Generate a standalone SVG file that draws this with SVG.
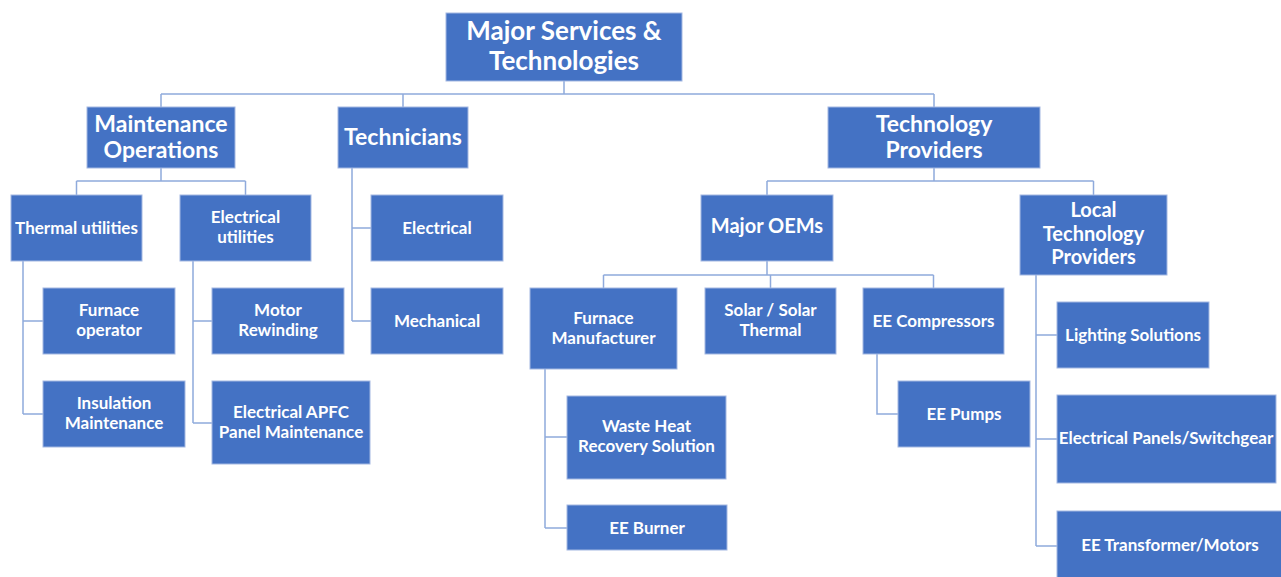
<svg xmlns="http://www.w3.org/2000/svg" width="1281" height="577" viewBox="0 0 1281 577">
<style>
.box{fill:#4472C4;stroke:#A3B8E2;stroke-width:1}
.t{font-family:Lato,"Liberation Sans",sans-serif;font-weight:bold;fill:#fff;text-anchor:middle}
.xl{font-size:26px}
.l{font-size:23px}
.m{font-size:20px}
.s{font-size:17px}
.c{fill:none;stroke:#8FAADC;stroke-width:1.5}
</style>
<rect width="1281" height="577" fill="#fff"/>
<g id="connectors" class="c">
<path d="M564 81V94M161 94H934M161 94V107M403 94V107M934 94V107"/>
<path d="M161 168V181M76.5 181H245.5M76.5 181V195M245.5 181V195"/>
<path d="M23 261V414M23 321H43M23 414H43"/>
<path d="M193 261V423M193 321H212M193 423H212"/>
<path d="M352 168V321M352 228H371M352 321H371"/>
<path d="M934 168V181M767 181H1093.5M767 181V195M1093.5 181V195"/>
<path d="M767 261V275M603.5 275H933.5M603.5 275V288M770.5 275V288M933.5 275V288"/>
<path d="M545 369V528M545 437H567M545 528H567"/>
<path d="M877 354V414H898"/>
<path d="M1036 275V546M1036 335H1057M1036 439H1057M1036 546H1057"/>
</g>
<g id="root"><rect class="box" x="446" y="13" width="236" height="68"/><text class="t xl" x="564" y="39.5">Major Services &amp;</text><text class="t xl" x="564" y="69.5">Technologies</text></g>
<g id="maintenance"><rect class="box" x="87" y="107" width="148" height="61"/><text class="t l" x="161" y="131.5">Maintenance</text><text class="t l" x="161" y="157.5">Operations</text></g>
<g id="technicians"><rect class="box" x="338" y="107" width="130" height="61"/><text class="t l" x="403" y="145">Technicians</text></g>
<g id="techproviders"><rect class="box" x="828" y="107" width="212" height="61"/><text class="t l" x="934" y="132">Technology</text><text class="t l" x="934" y="158">Providers</text></g>
<g id="thermal"><rect class="box" x="11" y="195" width="131" height="66"/><text class="t s" x="76.5" y="233.5">Thermal utilities</text></g>
<g id="elecutil"><rect class="box" x="180" y="195" width="131" height="66"/><text class="t s" x="245.5" y="222.5">Electrical</text><text class="t s" x="245.5" y="242.5">utilities</text></g>
<g id="electrical"><rect class="box" x="371" y="195" width="132" height="66"/><text class="t s" x="437" y="233.5">Electrical</text></g>
<g id="furnaceop"><rect class="box" x="43" y="288" width="132" height="66"/><text class="t s" x="109" y="316">Furnace</text><text class="t s" x="109" y="336">operator</text></g>
<g id="insulation"><rect class="box" x="43" y="381" width="142" height="66"/><text class="t s" x="114" y="409">Insulation</text><text class="t s" x="114" y="429">Maintenance</text></g>
<g id="motor"><rect class="box" x="212" y="288" width="132" height="66"/><text class="t s" x="278" y="316">Motor</text><text class="t s" x="278" y="336">Rewinding</text></g>
<g id="apfc"><rect class="box" x="212" y="381" width="158" height="83"/><text class="t s" x="291" y="417.5">Electrical APFC</text><text class="t s" x="291" y="437.5">Panel Maintenance</text></g>
<g id="mechanical"><rect class="box" x="371" y="288" width="132" height="66"/><text class="t s" x="437" y="327">Mechanical</text></g>
<g id="oems"><rect class="box" x="701" y="195" width="132" height="66"/><text class="t m" x="767" y="233">Major OEMs</text></g>
<g id="localtp"><rect class="box" x="1020" y="195" width="147" height="80"/><text class="t m" x="1093.5" y="217">Local</text><text class="t m" x="1093.5" y="240.5">Technology</text><text class="t m" x="1093.5" y="264">Providers</text></g>
<g id="furnacemfr"><rect class="box" x="530" y="288" width="147" height="81"/><text class="t s" x="603.5" y="323.5">Furnace</text><text class="t s" x="603.5" y="343.5">Manufacturer</text></g>
<g id="solar"><rect class="box" x="705" y="288" width="131" height="66"/><text class="t s" x="770.5" y="316">Solar / Solar</text><text class="t s" x="770.5" y="336">Thermal</text></g>
<g id="eecomp"><rect class="box" x="863" y="288" width="141" height="66"/><text class="t s" x="933.5" y="326.5">EE Compressors</text></g>
<g id="wasteheat"><rect class="box" x="567" y="396" width="159" height="83"/><text class="t s" x="646.5" y="432">Waste Heat</text><text class="t s" x="646.5" y="452">Recovery Solution</text></g>
<g id="burner"><rect class="box" x="567" y="505" width="160" height="45"/><text class="t s" x="647" y="533.5">EE Burner</text></g>
<g id="pumps"><rect class="box" x="898" y="381" width="132" height="66"/><text class="t s" x="964" y="419.5">EE Pumps</text></g>
<g id="lighting"><rect class="box" x="1057" y="302" width="152" height="66"/><text class="t s" x="1133" y="340.5">Lighting Solutions</text></g>
<g id="panels"><rect class="box" x="1057" y="395" width="219" height="88"/><text class="t s" x="1166" y="444">Electrical Panels/Switchgear</text></g>
<g id="transformer"><rect class="box" x="1057" y="511" width="226" height="70"/><text class="t s" x="1170" y="550.5">EE Transformer/Motors</text></g>
</svg>
